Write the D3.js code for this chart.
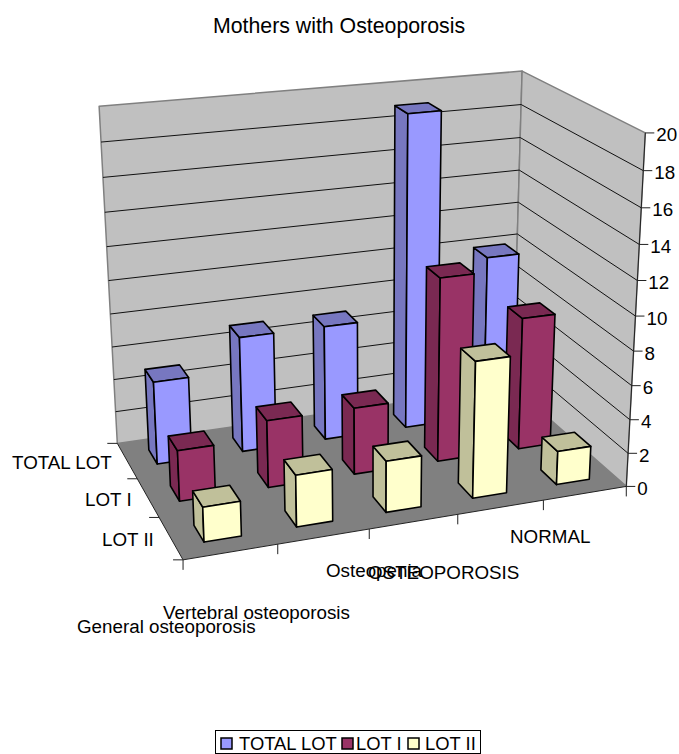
<!DOCTYPE html>
<html><head><meta charset="utf-8">
<script src="https://cdn.jsdelivr.net/npm/d3@7"></script>
<style>html,body{margin:0;padding:0;background:#fff}svg{display:block}text{font-family:"Liberation Sans",Arial,sans-serif;fill:#000}</style>
</head><body><div id="c"></div>
<script>
const categories = ["General osteoporosis","Vertebral osteoporosis","Osteopenia","OSTEOPOROSIS","NORMAL"];
const seriesNames = ["TOTAL LOT","LOT I","LOT II"];
const totalLot = [5,7,7,19,10];
const lotI = [3,4,4,11,8];
const lotII = [2,3,3,8,2];
const seriesValues = [totalLot,lotI,lotII];
const faceColors = ["#9999FF","#993366","#FFFFCC"];
const sideColors = ["#7777C0","#7A2952","#C0C09A"];
const valueTicks = d3.range(0,21,2);

// Layout: where the plot box's corners fall on the page [u,v,h, x,y]
const anchors = [
 [0,0,0,117,443],[1,0,0,513,387],[1,1,0,626,486],[0,1,0,183,560],
 [0,0,1,99,106],[1,0,1,522,71],[1,1,1,645,133],
 [0,0,.5,109,281],[1,1,.5,636,316],[1,1,.2,630,420]
];
const catLabelPos = [[77,626],[163,612],[326,570],[368,572],[510,536]];
const serLabelPos = [[12,463],[85,500],[102,540]];
const FS = 18.8, LEG_FS = 18.4;

function solve(A,b){
  const n=b.length,M=A.map((r,i)=>[...r,b[i]]);
  for(let i=0;i<n;i++){
    let m=i;for(let r=i+1;r<n;r++)if(Math.abs(M[r][i])>Math.abs(M[m][i]))m=r;
    [M[i],M[m]]=[M[m],M[i]];
    for(let r=0;r<n;r++){if(r===i)continue;const f=M[r][i]/M[i][i];for(let c=i;c<=n;c++)M[r][c]-=f*M[i][c];}
  }
  return M.map((r,i)=>r[n]/r[i]);
}
const rows=[],rhs=[];
anchors.forEach(([u,v,h,x,y])=>{
  rows.push([u,v,h,1,0,0,0,0,-x*u,-x*v,-x*h]);rhs.push(x);
  rows.push([0,0,0,0,u,v,h,1,-y*u,-y*v,-y*h]);rhs.push(y);
});
const AtA=d3.range(11).map(i=>d3.range(11).map(j=>d3.sum(rows,r=>r[i]*r[j])));
const Atb=d3.range(11).map(i=>d3.sum(rows,(r,k)=>r[i]*rhs[k]));
const P=solve(AtA,Atb);
const proj=(u,v,h)=>{const w=P[8]*u+P[9]*v+P[10]*h+1;return [(P[0]*u+P[1]*v+P[2]*h+P[3])/w,(P[4]*u+P[5]*v+P[6]*h+P[7])/w];};

const uBand=d3.scaleBand().domain(categories).range([0,1]).paddingInner(.6).paddingOuter(.3);
const vBand=d3.scaleBand().domain(seriesNames).range([0,1]).paddingInner(.6).paddingOuter(.3);
const hScale=d3.scaleLinear().domain([0,20]).range([0,1]);
const line=d3.line();
const svg=d3.select("#c").append("svg").attr("width",679).attr("height",754);
const poly=(pts,fill,stroke,sw)=>svg.append("path").attr("d",line(pts)+"Z").attr("fill",fill).attr("stroke",stroke||"none").attr("stroke-width",sw||0).attr("stroke-linejoin","round");
const seg=(a,b,c,w)=>svg.append("line").attr("x1",a[0]).attr("y1",a[1]).attr("x2",b[0]).attr("y2",b[1]).attr("stroke",c).attr("stroke-width",w);

svg.append("text").attr("x",339).attr("y",33).attr("text-anchor","middle").attr("font-size",21.3).text("Mothers with Osteoporosis");

// walls and floor
poly([proj(0,0,0),proj(1,0,0),proj(1,0,1),proj(0,0,1)],"#C0C0C0","#808080",1.5);
poly([proj(1,0,0),proj(1,1,0),proj(1,1,1),proj(1,0,1)],"#C0C0C0","#808080",1.5);
poly([proj(0,0,0),proj(1,0,0),proj(1,1,0),proj(0,1,0)],"#808080");

// gridlines
valueTicks.filter(t=>t>0&&t<20).forEach(t=>{
  const h=hScale(t);
  seg(proj(0,0,h),proj(1,0,h),"#111",1);
  seg(proj(1,0,h),proj(1,1,h),"#111",1);
});

// axes
seg(proj(0,1,0),proj(1,1,0),"#222",1);
seg(proj(0,0,0),proj(0,1,0),"#222",1);
seg(proj(1,1,0),proj(1,1,1),"#222",1);
valueTicks.forEach(t=>{
  const p=proj(1,1,hScale(t));
  seg(p,[p[0]+9,p[1]],"#222",1);
  svg.append("text").attr("x",p[0]+11).attr("y",p[1]+8.5).attr("font-size",FS).text(t);
});
d3.range(0,6).forEach(i=>{
  const p=proj(i/5,1,0);
  seg(p,[p[0],p[1]+10],"#222",1);
});
d3.range(0,4).forEach(i=>{
  const p=proj(0,i/3,0);
  seg(p,[p[0]-10,p[1]],"#222",1);
});
categories.forEach((c,i)=>svg.append("text").attr("x",catLabelPos[i][0]).attr("y",catLabelPos[i][1]+7).attr("font-size",FS).text(c));
seriesNames.forEach((s,i)=>svg.append("text").attr("x",serLabelPos[i][0]).attr("y",serLabelPos[i][1]+6).attr("font-size",FS).text(s));

// bars, back row first
seriesNames.forEach((s,si)=>{
  const v0=vBand(s),v1=v0+vBand.bandwidth();
  categories.map((c,ci)=>ci).reverse().forEach(ci=>{
    const u0=uBand(categories[ci]),u1=u0+uBand.bandwidth(),h=hScale(seriesValues[si][ci]);
    const sw=1.6;
    poly([proj(u0,v0,0),proj(u0,v1,0),proj(u0,v1,h),proj(u0,v0,h)],sideColors[si],"#000",sw);
    poly([proj(u0,v0,h),proj(u1,v0,h),proj(u1,v1,h),proj(u0,v1,h)],sideColors[si],"#000",sw);
    poly([proj(u0,v1,0),proj(u1,v1,0),proj(u1,v1,h),proj(u0,v1,h)],faceColors[si],"#000",sw);
  });
});

// legend
svg.append("rect").attr("x",215.5).attr("y",730.5).attr("width",265).attr("height",23).attr("fill","#fff").attr("stroke","#000").attr("stroke-width",1);
const legSwatch=[221,342,408],legText=[239,356,425];
seriesNames.forEach((s,i)=>{
  svg.append("rect").attr("x",legSwatch[i]).attr("y",738).attr("width",11).attr("height",11).attr("fill",faceColors[i]).attr("stroke","#000").attr("stroke-width",1.5);
  svg.append("text").attr("x",legText[i]).attr("y",750).attr("font-size",LEG_FS).text(s);
});
</script></body></html>
